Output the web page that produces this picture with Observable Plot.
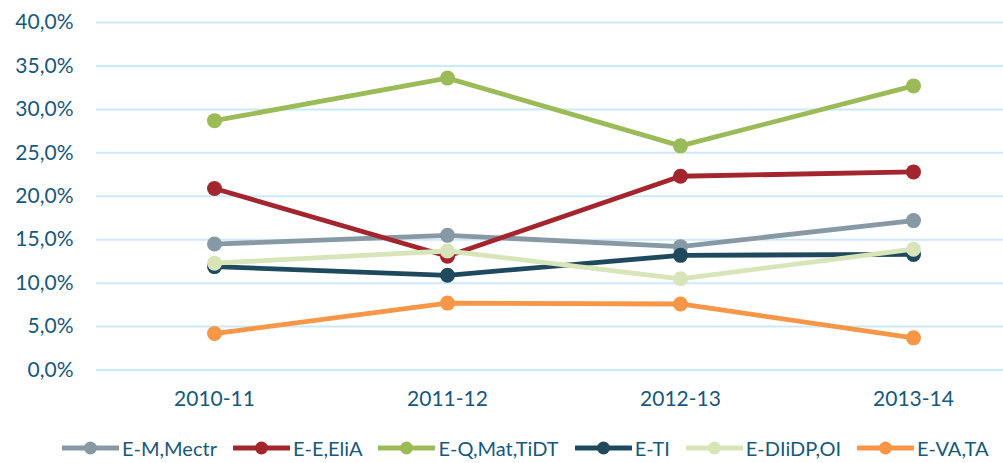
<!DOCTYPE html>
<html><head><meta charset="utf-8">
<script src="https://cdn.jsdelivr.net/npm/d3@7"></script>
<script src="https://cdn.jsdelivr.net/npm/@observablehq/plot@0.6"></script>
<style>
body{margin:0;background:#fff;font-family:Lato,sans-serif;width:1003px;height:463px;overflow:hidden;}
#legend{display:flex;justify-content:flex-start;align-items:center;height:30px;padding-left:62px;margin-top:8px;font-size:20px;color:#17587c;white-space:nowrap;}
.item{display:flex;align-items:center;margin-right:16px;}
.item svg{margin-right:3px;}
</style></head><body><div id="chart"></div><div id="legend"></div>
<script>
const years = ["2010-11","2011-12","2012-13","2013-14"];
const seriesNames = ["E-M,Mectr","E-E,EliA","E-Q,Mat,TiDT","E-TI","E-DIiDP,OI","E-VA,TA"];
const seriesColors = ["#8799a4","#a3262f","#9bbb59","#1f4a5e","#d7e5b9","#f79646"];
const emMectr = [14.5,15.5,14.2,17.2];
const eeEliA = [20.9,13.1,22.3,22.8];
const eqMat = [28.7,33.6,25.8,32.7];
const eTI = [11.9,10.9,13.2,13.3];
const eDIiDP = [12.3,13.7,10.5,13.9];
const eVATA = [4.2,7.7,7.6,3.7];
const yTicks = [0,5,10,15,20,25,30,35,40];

const allValues = [emMectr,eeEliA,eqMat,eTI,eDIiDP,eVATA];
const data = seriesNames.map((s,i)=>years.map((y,j)=>({series:s, year:y, value:allValues[i][j]/100})));

const fmt = d => (d*100).toFixed(1).replace(".",",")+"%";

const marks = [
  Plot.ruleY(yTicks.map(t=>t/100), {stroke:"#cbe9f9", strokeWidth:2}),
  Plot.axisY({ticks: yTicks.map(t=>t/100), tickFormat: fmt, tickSize:0, tickPadding:23, fontSize:21}),
  Plot.axisX({tickSize:0, tickPadding:21, fontSize:21})
];
data.forEach((d,i)=>{
  marks.push(Plot.line(d,{x:"year", y:"value", stroke:seriesColors[i], strokeWidth:4.8, strokeLinejoin:"round"}));
  marks.push(Plot.dot(d,{x:"year", y:"value", fill:seriesColors[i], r:7.5}));
});

const chart = Plot.plot({
  width:1003, height:425,
  marginLeft:96, marginRight:0, marginTop:22, marginBottom:55.5,
  style:{fontFamily:"Lato, sans-serif", fontSize:"21px", color:"#17587c", background:"#fff"},
  x:{type:"point", domain:years, padding:0.4436, align:0.565, label:null},
  y:{domain:[0,0.4], label:null},
  marks
});
document.getElementById("chart").appendChild(chart);

const legend = document.getElementById("legend");
seriesNames.forEach((s,i)=>{
  const it = document.createElement("div");
  it.className="item";
  it.innerHTML = `<svg width="57" height="16"><line x1="1" x2="56" y1="8" y2="8" stroke="${seriesColors[i]}" stroke-width="5" stroke-linecap="round"/><circle cx="28.5" cy="8" r="6.5" fill="${seriesColors[i]}"/></svg><span>${s}</span>`;
  legend.appendChild(it);
});
</script>
</body></html>
